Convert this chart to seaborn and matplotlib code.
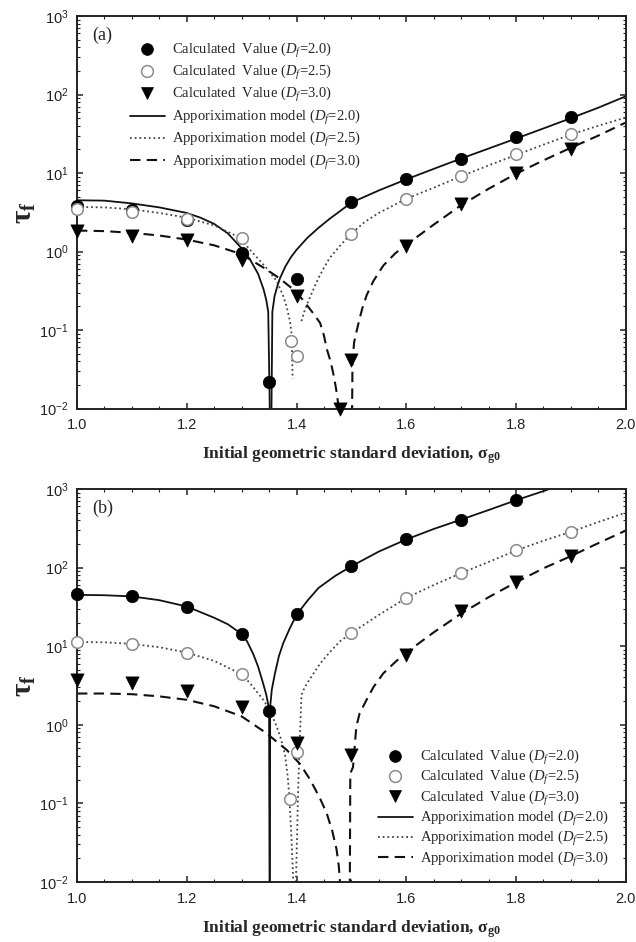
import numpy as np
import pandas as pd
import matplotlib
matplotlib.use("Agg")
import matplotlib.pyplot as plt
import seaborn as sns
from matplotlib.ticker import MultipleLocator, LogLocator, NullFormatter, FormatStrFormatter
from matplotlib.lines import Line2D

# ---- panel (a): calculated values ----
a_c20_x = [1.0, 1.1, 1.2, 1.3, 1.35, 1.4, 1.5, 1.6, 1.7, 1.8, 1.9]
a_c20_y = [3.75, 3.4, 2.55, 0.95, 0.022, 0.45, 4.3, 8.5, 15.2, 29, 51]
a_c25_x = [1.0, 1.1, 1.2, 1.3, 1.39, 1.4, 1.5, 1.6, 1.7, 1.8, 1.9]
a_c25_y = [3.5, 3.2, 2.6, 1.47, 0.073, 0.047, 1.65, 4.7, 9.3, 17.5, 31.5]
a_c30_x = [1.0, 1.1, 1.2, 1.3, 1.4, 1.48, 1.5, 1.6, 1.7, 1.8, 1.9]
a_c30_y = [1.8, 1.6, 1.39, 0.79, 0.27, 0.0098, 0.042, 1.17, 4.0, 10, 20]

# ---- panel (a): approximation model (left / right branch) ----
a_m20_lx = [1.0, 1.05, 1.1, 1.15, 1.2, 1.225, 1.25, 1.275, 1.3, 1.315, 1.33, 1.34, 1.345, 1.3485, 1.352]
a_m20_ly = [4.5, 4.45, 4.1, 3.65, 3.1, 2.7, 2.25, 1.7, 1.1, 0.8, 0.52, 0.33, 0.24, 0.17, 0.005]
a_m20_rx = [1.354, 1.356, 1.36, 1.365, 1.37, 1.38, 1.39, 1.4, 1.42, 1.44, 1.46, 1.48, 1.5,
            1.55, 1.6, 1.65, 1.7, 1.75, 1.8, 1.85, 1.9, 1.95, 2.0]
a_m20_ry = [0.005, 0.17, 0.27, 0.36, 0.46, 0.65, 0.85, 1.05, 1.5, 2.0, 2.6, 3.3, 4.2,
            6.0, 8.3, 11.3, 15.3, 20.5, 27.5, 37, 50, 68, 95]
a_m25_lx = [1.0, 1.05, 1.1, 1.15, 1.2, 1.25, 1.285, 1.3, 1.321, 1.345, 1.364, 1.375, 1.382,
            1.388, 1.391, 1.393]
a_m25_ly = [3.7, 3.65, 3.45, 3.1, 2.7, 2.15, 1.65, 1.4, 0.95, 0.62, 0.42, 0.28, 0.2,
            0.13, 0.09, 0.024]
a_m25_rx = [1.409, 1.414, 1.42, 1.43, 1.44, 1.45, 1.46, 1.48, 1.5, 1.525, 1.55, 1.6, 1.65,
            1.7, 1.75, 1.8, 1.85, 1.9, 1.95, 2.0]
a_m25_ry = [0.13, 0.17, 0.22, 0.32, 0.46, 0.62, 0.82, 1.2, 1.7, 2.4, 3.1, 4.7, 6.5,
            9.1, 12.5, 17, 23, 31, 40, 51]
a_m30_lx = [1.0, 1.05, 1.1, 1.15, 1.2, 1.25, 1.285, 1.3, 1.3455, 1.37, 1.394, 1.41, 1.43,
            1.443, 1.45, 1.455, 1.462, 1.467, 1.472, 1.476, 1.479]
a_m30_ly = [1.85, 1.82, 1.73, 1.6, 1.42, 1.2, 1.0, 0.92, 0.59, 0.45, 0.33, 0.25, 0.165,
            0.123, 0.085, 0.058, 0.04, 0.028, 0.018, 0.0115, 0.005]
a_m30_rx = [1.501, 1.502, 1.505, 1.51, 1.515, 1.52, 1.528, 1.54, 1.558, 1.58, 1.602, 1.65,
            1.7, 1.75, 1.8, 1.85, 1.9, 1.95, 2.0]
a_m30_ry = [0.005, 0.04, 0.07, 0.1, 0.14, 0.19, 0.28, 0.42, 0.66, 0.95, 1.25, 2.2,
            3.9, 6.3, 9.8, 14.5, 21, 30, 44]

# ---- panel (b): calculated values ----
b_c20_x = [1.0, 1.1, 1.2, 1.3, 1.35, 1.4, 1.5, 1.6, 1.7, 1.8]
b_c20_y = [46, 43, 31.6, 14.3, 1.5, 26, 104, 228, 408, 720]
b_c25_x = [1.0, 1.1, 1.2, 1.3, 1.388, 1.4, 1.5, 1.6, 1.7, 1.8, 1.9]
b_c25_y = [11.3, 10.7, 8.3, 4.4, 0.115, 0.457, 14.7, 41, 85, 165, 285]
b_c30_x = [1.0, 1.1, 1.2, 1.3, 1.4, 1.5, 1.6, 1.7, 1.8, 1.9]
b_c30_y = [3.7, 3.4, 2.7, 1.66, 0.58, 0.41, 7.8, 27.7, 66, 139]

# ---- panel (b): approximation model ----
b_m20_lx = [1.0, 1.05, 1.1, 1.15, 1.2, 1.25, 1.275, 1.3, 1.31, 1.321, 1.33, 1.339, 1.345, 1.35, 1.351]
b_m20_ly = [45, 44.5, 43, 38.5, 32, 23, 19, 14.3, 11.5, 8, 5.5, 3.4, 2.4, 1.6, 0.005]
b_m20_rx = [1.3515, 1.352, 1.355, 1.3607, 1.368, 1.376, 1.388, 1.4, 1.42, 1.44, 1.47, 1.5,
            1.55, 1.6, 1.65, 1.7, 1.75, 1.8, 1.85, 1.9]
b_m20_ry = [0.005, 1.7, 2.8, 4.5, 7.5, 11, 17, 25, 38, 55, 78, 104,
            160, 228, 310, 408, 540, 720, 940, 1250]
b_m25_lx = [1.0, 1.05, 1.1, 1.15, 1.2, 1.25, 1.3, 1.315, 1.339, 1.35, 1.364, 1.372, 1.379,
            1.384, 1.387, 1.391, 1.394, 1.395]
b_m25_ly = [11.3, 11.2, 10.7, 9.7, 8.3, 6.5, 4.4, 3.4, 2.1, 1.6, 0.95, 0.65, 0.42,
            0.22, 0.12, 0.034, 0.0105, 0.005]
b_m25_rx = [1.398, 1.403, 1.406, 1.409, 1.415, 1.425, 1.443, 1.46, 1.479, 1.5, 1.55, 1.6,
            1.65, 1.7, 1.75, 1.8, 1.85, 1.9, 1.95, 2.0]
b_m25_ry = [0.005, 0.15, 0.64, 2.4, 3.0, 3.9, 6.0, 8.3, 11.5, 14.7, 25, 41,
            60, 85, 118, 165, 220, 285, 380, 500]
b_m30_lx = [1.0, 1.05, 1.1, 1.15, 1.2, 1.25, 1.3, 1.3455, 1.365, 1.382, 1.406, 1.425, 1.443,
            1.455, 1.465, 1.473, 1.477, 1.479, 1.48]
b_m30_ly = [2.5, 2.5, 2.45, 2.3, 2.08, 1.72, 1.28, 0.78, 0.6, 0.48, 0.32, 0.2, 0.115,
            0.075, 0.045, 0.026, 0.016, 0.0105, 0.005]
b_m30_rx = [1.497, 1.498, 1.503, 1.509, 1.515, 1.528, 1.54, 1.558, 1.58, 1.6, 1.65, 1.7,
            1.75, 1.8, 1.85, 1.9, 1.95, 2.0]
b_m30_ry = [0.005, 0.24, 0.29, 0.95, 1.4, 2.1, 3.0, 4.5, 6.3, 8.3, 15, 26,
            42, 65, 98, 140, 205, 296]

calc_labels = ["Calculated  Value ($D_f$=2.0)", "Calculated  Value ($D_f$=2.5)",
               "Calculated  Value ($D_f$=3.0)"]
model_labels = ["Apporiximation model ($D_f$=2.0)", "Apporiximation model ($D_f$=2.5)",
                "Apporiximation model ($D_f$=3.0)"]
xlabel = r"Initial geometric standard deviation, $\mathbf{\sigma_{g0}}$"

sns.set_style("ticks")
plt.rcParams['font.family'] = ['Liberation Sans', 'DejaVu Sans']
plt.rcParams['mathtext.fontset'] = 'custom'
plt.rcParams['mathtext.rm'] = 'Liberation Serif'
plt.rcParams['mathtext.it'] = 'Liberation Serif:italic'
plt.rcParams['mathtext.bf'] = 'Liberation Serif:bold'

line_styles = [dict(linestyle='-', linewidth=1.3, color='#111111'),
               dict(linestyle=(0, (1, 1.6)), linewidth=1.3, color='#444444'),
               dict(linestyle=(0, (5, 3)), linewidth=1.5, color='#111111')]
marker_styles = [dict(marker='o', s=80, color='black', edgecolor='black', linewidth=0.5),
                 dict(marker='o', s=70, color='white', edgecolor='#8a8a8a', linewidth=1.1),
                 dict(marker='v', s=90, color='black', edgecolor='black', linewidth=0.5)]


def branches_df(lx, ly, rx, ry):
    return pd.DataFrame({'x': lx + rx, 'y': ly + ry,
                         'seg': ['l'] * len(lx) + ['r'] * len(rx)})


def draw_panel(ax, models, calcs, tag, leg_anchor, spacing):
    for df, st in zip(models, line_styles):
        sns.lineplot(data=df, x='x', y='y', units='seg', estimator=None, sort=False,
                     ax=ax, legend=False, zorder=2, **st)
    for (cx, cy), mk in zip(calcs, marker_styles):
        sns.scatterplot(x=cx, y=cy, ax=ax, legend=False, zorder=3, clip_on=False, **mk)
    ax.set_yscale('log')
    ax.set_xlim(1.0, 2.0)
    ax.set_ylim(1e-2, 1e3)
    ax.xaxis.set_major_locator(MultipleLocator(0.2))
    ax.xaxis.set_minor_locator(MultipleLocator(0.05))
    ax.xaxis.set_major_formatter(FormatStrFormatter('%.1f'))
    ax.yaxis.set_major_locator(LogLocator(base=10, numticks=10))
    ax.yaxis.set_minor_locator(LogLocator(base=10, subs=np.arange(2, 10), numticks=20))
    ax.yaxis.set_minor_formatter(NullFormatter())
    ax.tick_params(which='both', direction='in', top=True, right=True, colors='#222222',
                   labelsize=10.5)
    ax.tick_params(which='major', length=4, width=1.1)
    ax.tick_params(which='minor', length=2.5, width=0.8)
    ax.tick_params(axis='x', pad=7)
    ax.tick_params(axis='y', pad=6)
    for sp in ax.spines.values():
        sp.set_linewidth(1.4)
        sp.set_color('#222222')
        sp.set_visible(True)
    ax.set_xlabel(xlabel, family='Liberation Serif', fontweight='bold', fontsize=12.5,
                  labelpad=9)
    ax.set_ylabel(r"$\mathbf{\tau_f}$", fontsize=21, labelpad=1)
    ax.text(0.027, 0.95, tag, transform=ax.transAxes,
            family='Liberation Serif', fontsize=13, va='center', ha='left')

    handles = []
    for mk, lab in zip(marker_styles, calc_labels):
        handles.append(Line2D([], [], linestyle='none', marker=mk['marker'], markersize=8.5,
                              markerfacecolor=mk['color'], markeredgecolor=mk['edgecolor'],
                              markeredgewidth=mk['linewidth'], label=lab))
    for st, lab in zip(line_styles, model_labels):
        handles.append(Line2D([], [], label=lab, **st))
    ax.legend(handles=handles, loc='upper left', bbox_to_anchor=leg_anchor, frameon=False,
              borderpad=0, borderaxespad=0, handlelength=2.4, handletextpad=0.5,
              labelspacing=spacing, prop={'family': 'Liberation Serif', 'size': 10.5})


fig = plt.figure(figsize=(6.36, 9.42), dpi=100)
ax_a = fig.add_axes([0.121, 0.5663, 0.863, 0.4167])
ax_b = fig.add_axes([0.121, 0.0637, 0.863, 0.4172])

draw_panel(ax_a,
           [branches_df(a_m20_lx, a_m20_ly, a_m20_rx, a_m20_ry),
            branches_df(a_m25_lx, a_m25_ly, a_m25_rx, a_m25_ry),
            branches_df(a_m30_lx, a_m30_ly, a_m30_rx, a_m30_ry)],
           [(a_c20_x, a_c20_y), (a_c25_x, a_c25_y), (a_c30_x, a_c30_y)],
           '(a)', (0.0965, 0.937), 0.23)
draw_panel(ax_b,
           [branches_df(b_m20_lx, b_m20_ly, b_m20_rx, b_m20_ry),
            branches_df(b_m25_lx, b_m25_ly, b_m25_rx, b_m25_ry),
            branches_df(b_m30_lx, b_m30_ly, b_m30_rx, b_m30_ry)],
           [(b_c20_x, b_c20_y), (b_c25_x, b_c25_y), (b_c30_x, b_c30_y)],
           '(b)', (0.548, 0.341), 0.09)

fig.savefig('out.png', dpi=100)
